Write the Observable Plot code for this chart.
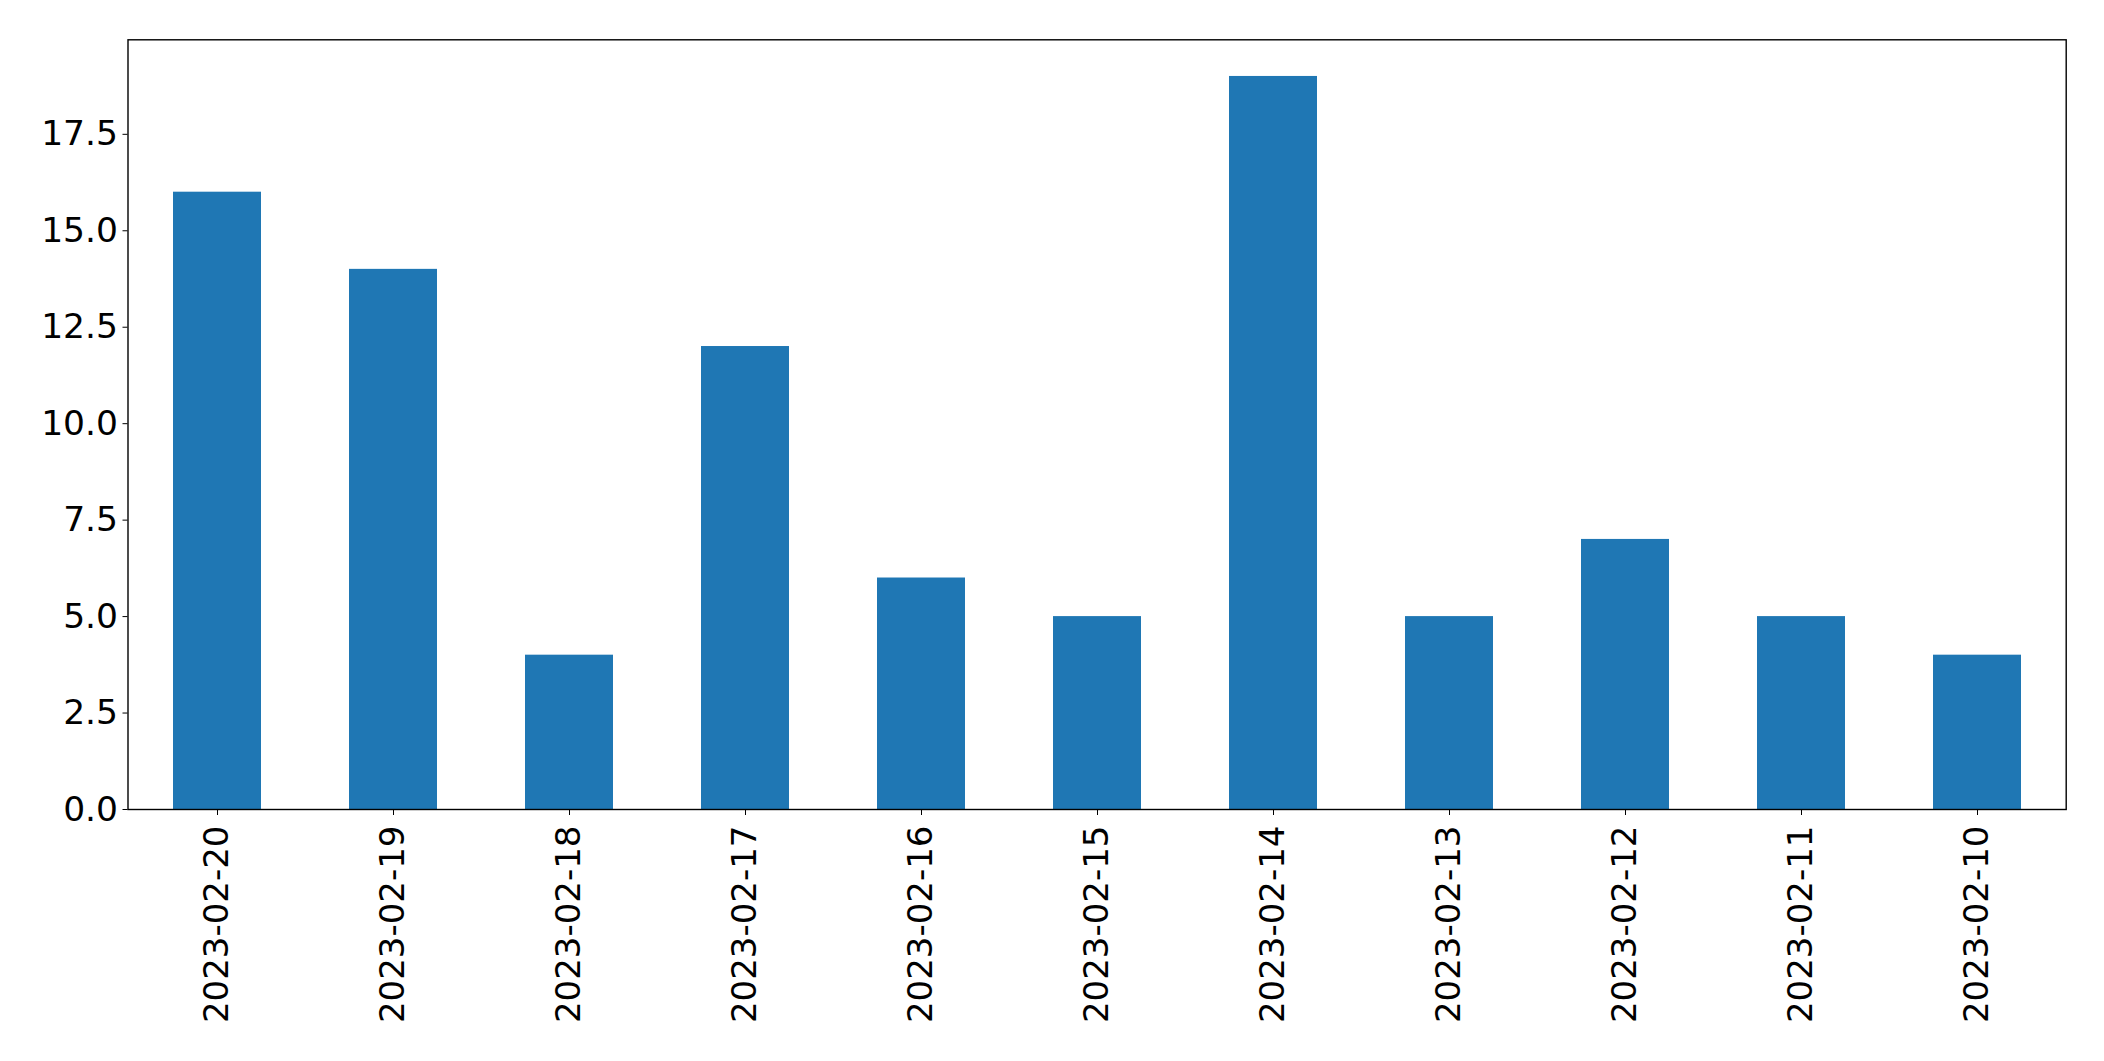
<!DOCTYPE html>
<html>
<head>
<meta charset="utf-8">
<script src="https://cdn.jsdelivr.net/npm/d3@7"></script>
<script src="https://cdn.jsdelivr.net/npm/@observablehq/plot@0.6"></script>
<style>
  html, body { margin: 0; padding: 0; background: #fff; }
  #chart svg { display: block; }
</style>
</head>
<body>
<div id="chart"></div>
<script>
const dates = ["2023-02-20","2023-02-19","2023-02-18","2023-02-17","2023-02-16","2023-02-15","2023-02-14","2023-02-13","2023-02-12","2023-02-11","2023-02-10"];
const counts = [16, 14, 4, 12, 6, 5, 19, 5, 7, 5, 4];
const yTicks = [0, 2.5, 5, 7.5, 10, 12.5, 15, 17.5];

const data = dates.map((d, i) => ({date: d, count: counts[i]}));

const chart = Plot.plot({
  width: 2104,
  height: 1061,
  marginLeft: 127.5,
  marginRight: 38.3,
  marginTop: 39.3,
  marginBottom: 252,
  style: {fontFamily: "DejaVu Sans", fontSize: "34px", color: "#000", background: "#fff"},
  x: {domain: dates, paddingInner: 0.5, paddingOuter: 0.25, label: null},
  y: {domain: [0, 19.95], label: null},
  marks: [
    Plot.barY(data, {x: "date", y: "count", fill: "#1f77b4"}),
    Plot.axisY({ticks: yTicks, tickFormat: d3.format(".1f"), tickSize: 5, tickPadding: 5, label: null, fontSize: 34.5}),
    Plot.axisX({tickRotate: -90, tickSize: 6, tickPadding: 10, label: null, fontSize: 34}),
    Plot.frame({stroke: "#000", strokeWidth: 1.4})
  ]
});
document.getElementById("chart").appendChild(chart);
</script>
</body>
</html>
